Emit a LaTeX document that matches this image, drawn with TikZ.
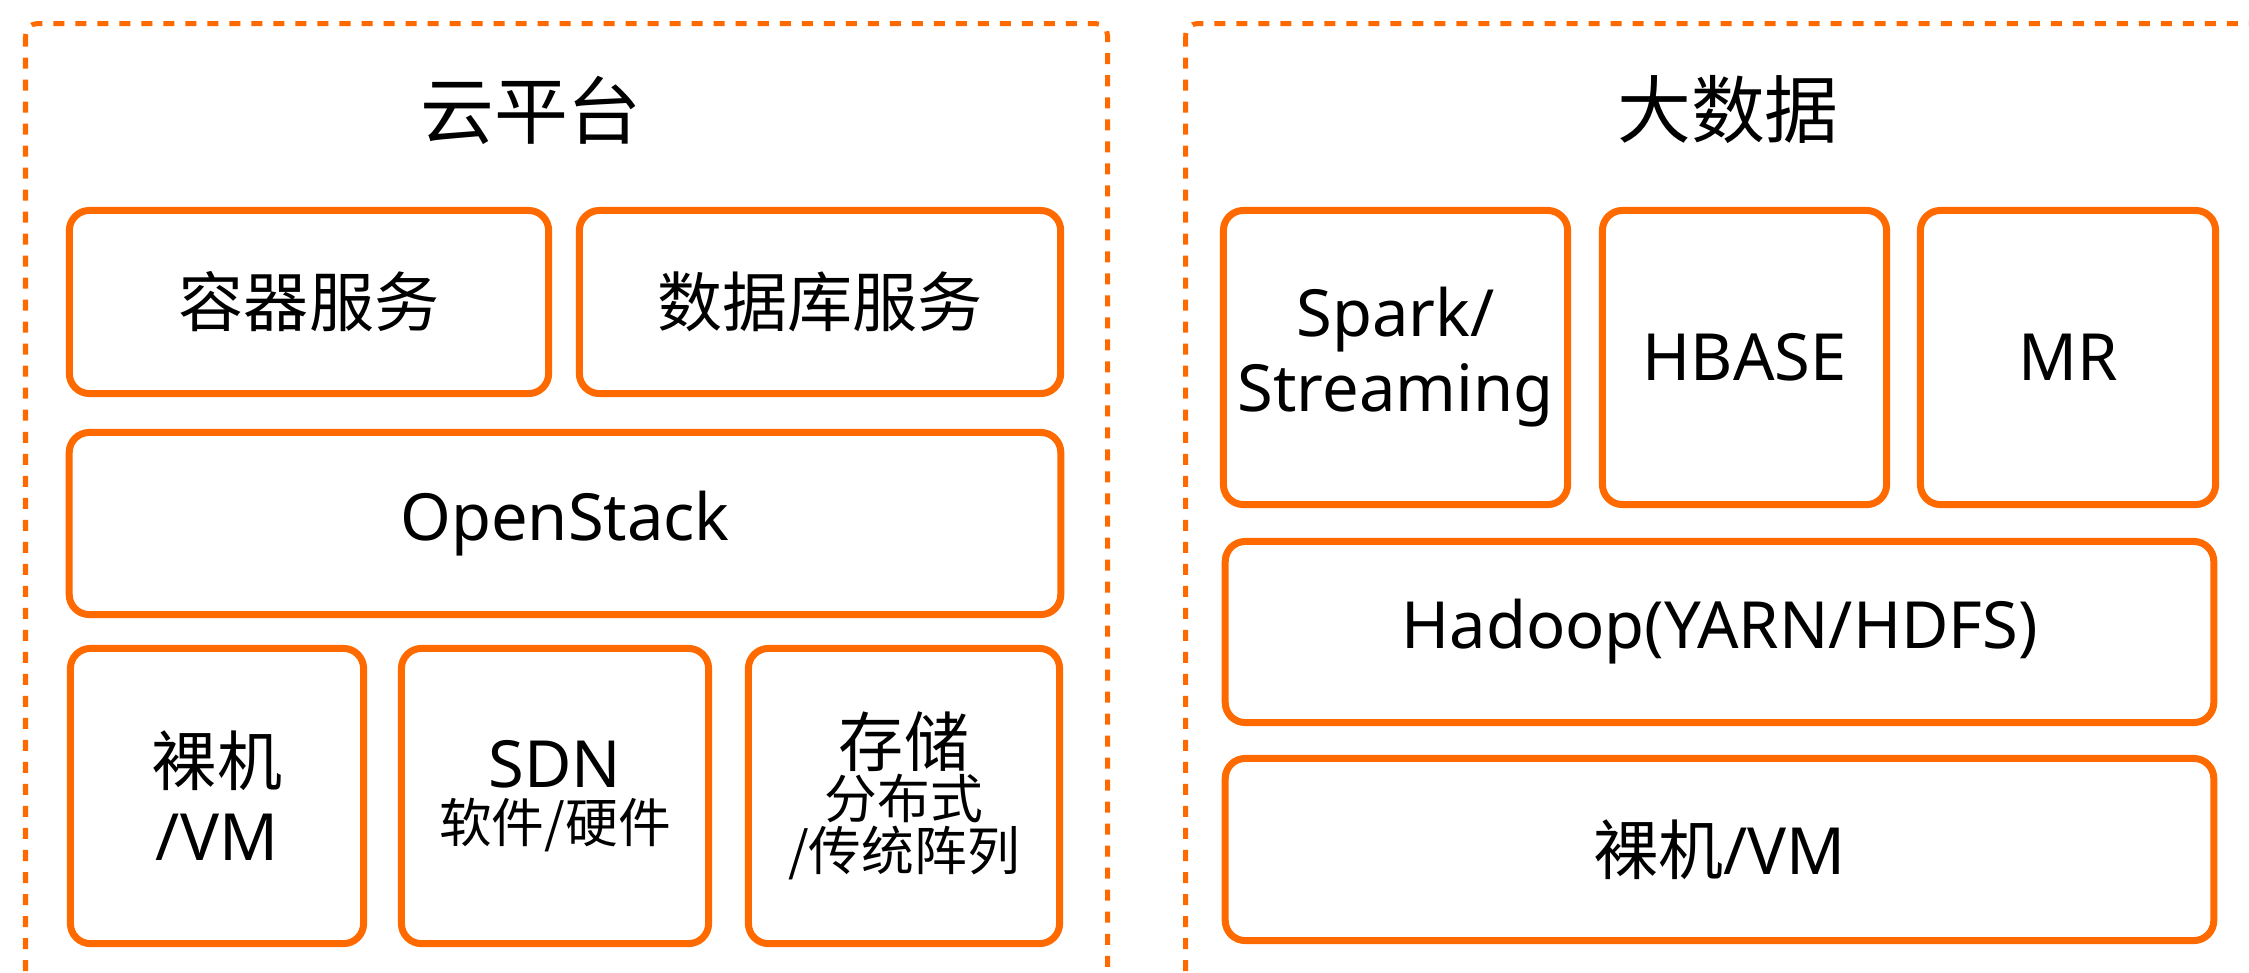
\documentclass[tikz,border=0pt]{standalone}
\usepackage{fontspec}
\setmainfont{Noto Sans}
\newfontfamily\cjk{Noto Sans CJK SC}
\definecolor{highlightcolor}{HTML}{FF6A00}
\tikzstyle{layerbox} = [
    draw=highlightcolor,
    line width=0.07cm,
    rounded corners=0.2cm,
    rectangle,
    inner sep=0pt,
    align=center,
    font={\fontsize{18.5}{21.3}\selectfont\lineskiplimit=-20pt}
    ]
\tikzstyle{paneltitle} = [
    font=\cjk\fontsize{21}{25}\selectfont
    ]
\tikzstyle{panelframe} = [
    draw=highlightcolor,
    line width=0.05cm,
    dash pattern=on 0.11cm off 0.11cm,
    rounded corners=0.12cm
    ]

\begin{document}
\begin{tikzpicture}[x=0.01cm, y=-0.01cm]
\useasboundingbox (0,0) rectangle (2249,972);
\clip (0,0) rectangle (2249,972);
% frames
\draw[panelframe] (25.5,23.5) rectangle (1107.5,1000);
\draw[panelframe] (1185.5,23.5) rectangle (2290,1000);
\node[paneltitle] (cloud) at (531,110) {云平台};
\node[paneltitle] (bigdata) at (1728,110) {大数据};

% cloud stack
\node[layerbox, minimum width=4.79cm, minimum height=1.83cm] (container) at (309,302) {\cjk 容器服务};
\node[layerbox, minimum width=4.81cm, minimum height=1.83cm] (database) at (820,302) {\cjk 数据库服务};
\node[layerbox, minimum width=9.91cm, minimum height=1.82cm] (openstack) at (565,523.5) {OpenStack};
\node[layerbox, minimum width=2.93cm, minimum height=2.95cm] (bare) at (217,796) {{\cjk 裸机}\\/VM};
\node[layerbox, minimum width=3.07cm, minimum height=2.95cm,
      font={\fontsize{18.5}{15.6}\selectfont\lineskiplimit=-20pt}] (sdn) at (555,796)
      {SDN\\{\cjk\fontsize{15}{15.6}\selectfont 软件/硬件}};
\node[layerbox, minimum width=3.11cm, minimum height=2.95cm,
      font={\cjk\fontsize{18.5}{14.8}\selectfont\lineskiplimit=-20pt}] (storage) at (904,796)
      {存储\\{\fontsize{15}{14.8}\selectfont 分布式}\\{\fontsize{15}{14.8}\selectfont /传统阵列}};

% big data stack
\node[layerbox, minimum width=3.44cm, minimum height=2.94cm] (spark) at (1395.5,357.5) {Spark/\\Streaming};
\node[layerbox, minimum width=2.84cm, minimum height=2.94cm] (hbase) at (1744.5,357.5) {HBASE};
\node[layerbox, minimum width=2.95cm, minimum height=2.94cm] (mr) at (2068,357.5) {MR};
\node[layerbox, minimum width=9.88cm, minimum height=1.81cm] (hadoop) at (1719.5,632) {Hadoop(YARN/HDFS)};
\node[layerbox, minimum width=9.88cm, minimum height=1.82cm] (bare2) at (1719.5,849.5) {{\cjk 裸机}/VM};
\end{tikzpicture}
\end{document}
